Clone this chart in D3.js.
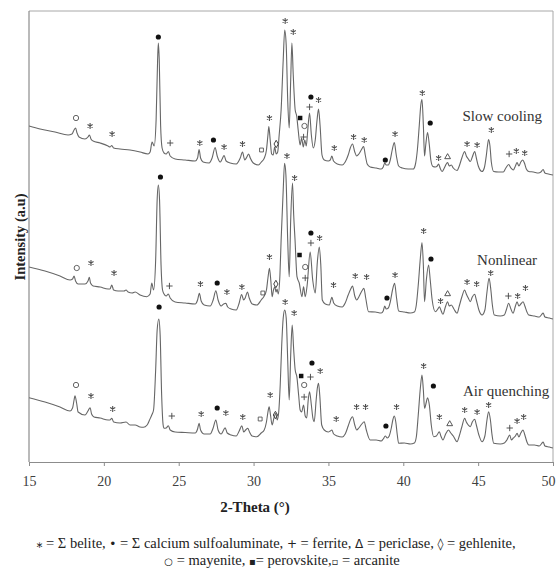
<!DOCTYPE html>
<html>
<head>
<meta charset="utf-8">
<script src="https://cdn.jsdelivr.net/npm/d3@7"></script>
<style>
body { margin: 0; background: #fff; }
text { font-family: 'Liberation Serif', 'DejaVu Serif', serif; }
</style>
</head>
<body>
<div id="xrd_plot"></div>
<script>
var xTicks = [15, 20, 25, 30, 35, 40, 45, 50];
var traceNames = ['Slow cooling', 'Nonlinear', 'Air quenching'];

// [2-theta, intensity (a.u.)]
var slowCooling = [[15.00,336],[15.74,333],[16.74,330],[17.61,327],[17.87,328],[18.01,332],[18.11,334],[18.21,329],[18.34,325],[18.74,323],[18.94,325],[19.04,327],[19.14,323],[19.28,321],[19.75,319],[20.28,316],[20.41,315],[20.53,316.5],[20.65,314],[21.08,313],[21.75,312],[22.42,310],[22.95,308],[23.09,310],[23.22,320],[23.36,316],[23.49,342],[23.59,402],[23.64,419],[23.70,402],[23.79,337],[23.89,314],[24.02,309],[24.16,308],[24.31,310.5],[24.43,306],[24.76,303],[25.43,302],[26.10,301],[26.26,304],[26.36,312.5],[26.46,304],[26.63,300],[27.03,299],[27.23,304],[27.43,314.5],[27.57,306],[27.77,300],[27.90,303],[28.03,306.5],[28.17,301],[28.44,299],[28.84,298],[29.11,304],[29.26,310],[29.41,302],[29.55,305],[29.67,308],[29.78,304],[29.98,299],[30.32,297],[30.52,300],[30.72,304],[30.86,312],[30.96,327],[31.02,335.5],[31.11,322],[31.21,308],[31.31,307],[31.41,315],[31.51,308],[31.61,310],[31.71,327],[31.84,352],[31.98,402],[32.08,432],[32.18,417],[32.28,362],[32.38,334],[32.48,382],[32.56,419],[32.65,387],[32.78,352],[32.88,346],[32.98,332],[33.11,317],[33.21,324],[33.32,315],[33.42,322],[33.52,316],[33.62,332],[33.74,349],[33.86,327],[33.99,314],[34.12,322],[34.24,342],[34.34,353],[34.44,337],[34.57,307],[34.72,302],[34.99,301],[35.12,302],[35.23,306],[35.34,301],[35.59,298],[35.92,297],[36.12,300],[36.32,307],[36.46,314],[36.61,318],[36.76,310],[36.89,306],[37.03,308],[37.19,312],[37.35,315.5],[37.46,307],[37.59,298],[37.79,295],[38.19,294],[38.53,293],[38.66,295],[38.76,299],[38.86,297],[39.00,297],[39.13,302],[39.26,312],[39.40,319.5],[39.53,307],[39.69,296],[39.93,294],[40.33,293],[40.67,293],[40.80,297],[40.94,312],[41.07,337],[41.17,357],[41.25,362.5],[41.34,337],[41.42,306],[41.50,317],[41.62,329.5],[41.74,317],[41.84,302],[41.98,295.5],[42.14,295],[42.27,296],[42.36,298],[42.46,294],[42.59,290.5],[42.74,294],[42.87,298],[42.96,299.5],[43.07,296],[43.21,297],[43.34,294],[43.59,291.5],[43.74,296],[43.91,304],[44.10,310.5],[44.21,306],[44.34,303],[44.48,300.5],[44.61,305],[44.77,310.5],[44.88,304],[45.01,296],[45.26,290.5],[45.41,294],[45.55,307],[45.63,317],[45.70,322.5],[45.79,316],[45.88,300],[46.04,290.5],[46.35,290],[46.68,290],[46.85,294],[47.04,297.5],[47.19,294],[47.35,292],[47.49,296],[47.60,299.5],[47.72,296],[47.85,300],[47.98,302],[48.09,299],[48.22,293],[48.38,290.5],[48.69,290],[49.02,289],[49.19,290],[49.34,292.5],[49.46,289],[49.69,288],[50.00,287]];

var nonlinear = [[15.00,195],[16.07,191],[17.07,186],[17.74,182],[17.91,183],[18.01,186],[18.11,181],[18.28,178],[18.74,178],[18.94,181],[19.03,184.7],[19.11,179],[19.28,176],[19.75,175],[20.28,173],[20.41,173],[20.53,177],[20.65,172],[20.95,171],[21.35,171],[21.48,172],[21.62,170],[21.89,169],[22.09,170],[22.42,167],[22.87,165.3],[23.09,168],[23.20,179],[23.32,172],[23.46,202],[23.56,262],[23.64,277],[23.72,262],[23.82,197],[23.92,172],[24.02,168],[24.16,166],[24.31,168],[24.43,164],[24.76,160],[25.43,159],[26.10,158],[26.26,162],[26.38,168.7],[26.50,161],[26.70,157],[27.10,156],[27.30,162],[27.48,171.3],[27.63,162],[27.83,156],[28.00,158],[28.15,158.7],[28.27,155],[28.50,153],[28.84,152],[29.04,159],[29.20,167.5],[29.34,162],[29.44,164],[29.59,170],[29.71,164],[29.91,158],[30.22,157],[30.51,162],[30.71,166],[30.86,172],[30.96,184],[31.06,193.7],[31.16,180],[31.24,165.3],[31.33,172],[31.42,175.3],[31.50,170],[31.57,173],[31.65,168],[31.76,187],[31.84,222],[31.98,272],[32.07,298.7],[32.16,287],[32.28,222],[32.38,185.3],[32.48,242],[32.60,279],[32.68,247],[32.77,222],[32.90,185.3],[33.05,179],[33.23,165.3],[33.34,175.3],[33.45,165.3],[33.58,177],[33.78,210],[33.95,182],[34.12,169],[34.26,200],[34.39,215],[34.49,197],[34.59,162],[34.79,158],[35.06,157],[35.23,164.7],[35.35,159],[35.59,156],[35.92,155],[36.12,159],[36.32,167],[36.49,173],[36.61,176],[36.76,166],[36.89,162],[37.03,165],[37.23,171],[37.37,173.7],[37.49,164],[37.68,150.3],[38.13,150],[38.53,149],[38.66,151],[38.76,156],[38.86,153],[39.00,154],[39.13,160],[39.28,172],[39.42,178.7],[39.55,164],[39.69,151],[40.07,150],[40.47,149],[40.74,150],[40.87,157],[41.00,177],[41.14,204],[41.25,219.5],[41.34,197],[41.42,160.3],[41.54,182],[41.69,197],[41.80,182],[41.93,162],[42.14,150.3],[42.31,153],[42.41,155.3],[42.51,152],[42.65,147.7],[42.81,155],[42.96,160.3],[43.07,156],[43.21,157],[43.38,153],[43.59,148.7],[43.74,156],[43.91,165],[44.10,172],[44.21,168],[44.34,164],[44.48,160.3],[44.61,165],[44.77,167.7],[44.88,162],[45.05,152],[45.26,147],[45.45,152],[45.59,170],[45.73,183.7],[45.85,172],[45.95,157],[46.08,147],[46.48,146],[46.75,147],[46.88,152],[47.04,158.7],[47.19,153],[47.33,148.7],[47.49,156],[47.60,160.3],[47.72,156],[47.85,158],[48.00,160.3],[48.12,156],[48.26,150],[48.38,147],[48.76,146],[49.09,145],[49.22,147],[49.34,149],[49.46,145],[49.76,144],[50.00,143]];

var airQuenching = [[15.00,64.3],[16.07,60],[17.07,55],[17.74,51],[17.91,54],[18.01,62],[18.07,66.3],[18.18,59],[18.28,50],[18.74,47],[18.94,51],[19.08,54.3],[19.18,48],[19.34,45],[19.75,44],[20.28,42],[20.41,42],[20.53,43.7],[20.65,40],[21.08,39],[21.48,40],[21.75,37],[22.09,37],[22.42,35],[22.64,34.7],[22.89,37],[23.05,42],[23.20,47],[23.32,52],[23.46,92],[23.56,132],[23.67,143],[23.76,127],[23.86,67],[23.96,37],[24.02,33.7],[24.16,34],[24.31,36.3],[24.43,32],[24.76,30],[25.43,29.5],[26.10,29],[26.26,33],[26.36,38.7],[26.46,32],[26.70,28],[27.10,28],[27.30,34],[27.48,42],[27.63,32],[27.83,28],[28.00,32],[28.10,34.3],[28.24,29],[28.50,27],[28.84,26],[29.04,31],[29.22,36.3],[29.34,30],[29.47,32],[29.61,33.7],[29.73,30],[29.90,26],[30.22,25.3],[30.51,29],[30.71,32],[30.86,40],[30.96,50],[31.04,55.3],[31.13,47],[31.24,37],[31.36,44],[31.49,48.7],[31.58,42],[31.68,50],[31.78,77],[31.88,117],[31.98,144],[32.08,152],[32.18,144],[32.28,102],[32.38,62],[32.48,107],[32.58,137],[32.68,112],[32.78,92],[32.89,85.3],[33.01,67],[33.11,52],[33.21,50],[33.34,57],[33.45,46],[33.55,44],[33.65,62],[33.74,70.3],[33.86,57],[33.96,44],[34.05,40.3],[34.18,62],[34.26,74],[34.34,78.7],[34.42,67],[34.55,37],[34.72,32],[34.99,30],[35.12,31],[35.23,32],[35.35,28],[35.59,26],[35.92,25],[36.12,28],[36.32,36],[36.49,43],[36.61,45.3],[36.76,37],[36.89,32],[37.03,34],[37.23,38],[37.39,40.3],[37.53,32],[37.79,22],[38.19,22],[38.53,21],[38.66,23],[38.80,26],[38.93,24],[39.06,26],[39.20,34],[39.30,42],[39.40,46],[39.50,40],[39.60,27],[39.69,18.7],[40.07,19],[40.47,18],[40.74,19],[40.87,25],[41.00,47],[41.14,74],[41.25,87],[41.34,72],[41.42,53.7],[41.54,60],[41.62,64.3],[41.74,57],[41.87,37],[42.03,25.3],[42.21,26],[42.41,30.3],[42.51,26],[42.65,22],[42.83,28],[43.02,32],[43.17,29],[43.34,26],[43.59,20.3],[43.74,26],[43.91,35],[44.10,43.7],[44.21,40],[44.34,37],[44.48,35.3],[44.61,40],[44.77,42.7],[44.88,37],[45.05,27],[45.26,20.3],[45.45,26],[45.59,42],[45.70,50.3],[45.82,42],[45.92,28],[46.04,18.7],[46.48,18],[46.75,19],[46.92,22],[47.11,27],[47.22,22],[47.35,24],[47.49,26],[47.60,28.7],[47.72,25],[47.85,29],[48.00,32],[48.12,27],[48.26,20],[48.38,17],[48.76,17],[49.09,16],[49.22,18],[49.34,20],[49.46,16],[49.76,15],[50.00,14]];

// phase marks: [phase, 2-theta, intensity]
var slowMarks = [['mayenite',18.14,344],['belite',19.08,336],['belite',20.55,328],['csa',23.64,425],['ferrite',24.43,319],['belite',26.41,319],['csa',27.32,322],['belite',28.03,315],['belite',29.26,318],['arcanite',30.53,312],['belite',31.06,344],['gehlenite',31.51,318],['belite',32.11,441],['belite',32.65,430],['perovskite',33.11,344],['mayenite',33.40,336],['ferrite',33.34,325],['csa',33.83,365],['ferrite',33.74,355],['belite',34.34,362],['belite',35.39,314],['belite',36.68,325],['belite',37.39,322],['csa',38.80,302],['belite',39.45,328],['belite',41.27,369],['csa',41.80,339],['belite',42.36,304],['periclase',42.96,305],['belite',44.26,318],['belite',44.93,317],['belite',45.88,332],['ferrite',47.07,308],['belite',47.55,311],['belite',48.11,309]];

var nonlinearMarks = [['mayenite',18.19,194],['belite',19.14,199],['belite',20.68,189],['csa',23.78,285],['ferrite',24.38,176],['belite',26.45,178],['csa',27.57,179],['belite',28.22,170],['belite',29.22,175],['arcanite',30.62,169],['belite',31.06,205],['gehlenite',31.49,178],['belite',32.23,306],['belite',32.74,284],['perovskite',33.07,207],['mayenite',33.45,195],['ferrite',33.45,184],['csa',33.83,229],['ferrite',33.83,219],['belite',34.41,224],['belite',35.34,177],['belite',36.79,186],['belite',37.55,185],['csa',38.91,164],['belite',39.45,187],['belite',41.36,231],['csa',41.85,203],['belite',42.49,161],['periclase',42.96,168],['belite',44.26,180],['belite',44.90,178],['belite',45.84,189],['ferrite',47.02,166],['belite',47.64,166],['belite',48.16,174]];

var airMarks = [['mayenite',18.14,77],['belite',19.14,66],['belite',20.59,53],['csa',23.69,155],['ferrite',24.54,46],['belite',26.50,48],['csa',27.57,54],['belite',28.15,49],['belite',29.28,45],['arcanite',30.44,43],['belite',31.11,67],['gehlenite',31.46,47],['belite',32.11,160],['belite',32.71,149],['perovskite',33.18,86],['mayenite',33.38,77],['ferrite',33.38,65],['csa',33.90,99],['ferrite',33.80,85],['belite',34.45,91],['belite',35.52,43],['belite',36.88,55],['belite',37.48,55],['csa',38.84,36],['belite',39.55,55],['belite',41.36,96],['csa',42.01,76],['belite',42.41,45],['periclase',43.10,38],['belite',44.10,52],['belite',44.93,50],['belite',45.70,57],['ferrite',47.11,34],['belite',47.60,41],['belite',48.04,45]];

// legend: [symbol glyph, rest of the entry]
var legendLine1 = [['\u204E', ' = \u03A3 belite, '], ['\u2022', ' = \u03A3 calcium sulfoaluminate, '], ['+', ' = ferrite, '], ['\u0394', ' = periclase, '], ['\u25CA', ' = gehlenite,']];
var legendLine2 = [['\u25CB', ' = mayenite, '], ['\u25AA', '= perovskite,'], ['\u25AB', ' = arcanite']];

function drawXRD(){
    const width = 557;
    const height = 571;
    const left = 29, right = 553, top = 11, bottom = 462;

    var svg = d3.select('#xrd_plot')
        .append('svg')
        .attr('width', width)
        .attr('height', height);

    var xScale = d3.scaleLinear().domain([15, 50]).range([left, right]);
    var yScale = d3.scaleLinear().domain([0, 451]).range([bottom, top]);

    svg.append('defs').append('clipPath').attr('id', 'plotClip')
        .append('rect')
        .attr('x', left).attr('y', top)
        .attr('width', right - left).attr('height', bottom - top);

    // frame
    svg.append('line').attr('x1', left).attr('x2', right).attr('y1', top).attr('y2', top)
        .attr('stroke', '#a8a8a8').attr('stroke-width', 1);
    svg.append('line').attr('x1', right).attr('x2', right).attr('y1', top).attr('y2', bottom)
        .attr('stroke', '#a8a8a8').attr('stroke-width', 1);
    svg.append('line').attr('x1', left).attr('x2', left).attr('y1', top).attr('y2', bottom)
        .attr('stroke', '#8c8c8c').attr('stroke-width', 1.2);

    var xAxis = svg.append('g')
        .attr('transform', 'translate(0,' + bottom + ')')
        .call(d3.axisBottom(xScale).tickValues(xTicks).tickSize(4).tickSizeOuter(0).tickPadding(10));
    xAxis.select('.domain').attr('stroke', '#8c8c8c').attr('stroke-width', 1.2);
    xAxis.selectAll('.tick line').attr('stroke', '#8c8c8c');
    xAxis.selectAll('.tick text')
        .style('font-family', "'Liberation Serif', serif")
        .style('font-size', '14px')
        .attr('fill', '#404040');
    // keep the last label inside the page
    xAxis.selectAll('.tick text').filter(d => d == 50).attr('text-anchor', 'end').attr('dx', '2');

    var line = d3.line()
        .x(d => xScale(d[0]))
        .y(d => yScale(d[1]))
        .curve(d3.curveMonotoneX);

    var traces = [slowCooling, nonlinear, airQuenching];
    svg.append('g').attr('clip-path', 'url(#plotClip)')
        .selectAll('path')
        .data(traces)
        .join('path')
        .attr('d', line)
        .attr('fill', 'none')
        .attr('stroke', '#666')
        .attr('stroke-width', 1.1)
        .attr('stroke-linejoin', 'round');

    var phaseStyle = {
        belite: {type: d3.symbolAsterisk, size: 24, fill: 'none', stroke: '#505050', sw: 1.1},
        csa: {type: d3.symbolCircle, size: 21, fill: '#111', stroke: 'none', sw: 0},
        ferrite: {type: d3.symbolPlus, size: 15, fill: 'none', stroke: '#444', sw: 0.9},
        periclase: {type: d3.symbolTriangle2, size: 24, fill: 'none', stroke: '#444', sw: 0.9},
        gehlenite: {type: d3.symbolDiamond, size: 16, fill: 'none', stroke: '#444', sw: 1},
        mayenite: {type: d3.symbolCircle, size: 22, fill: 'none', stroke: '#555', sw: 0.9},
        perovskite: {type: d3.symbolSquare, size: 20, fill: '#111', stroke: 'none', sw: 0},
        arcanite: {type: d3.symbolSquare, size: 15, fill: 'none', stroke: '#555', sw: 0.9}
    };

    var allMarks = slowMarks.concat(nonlinearMarks, airMarks);
    svg.append('g')
        .selectAll('path')
        .data(allMarks)
        .join('path')
        .attr('transform', d => 'translate(' + xScale(d[1]) + ',' + yScale(d[2]) + ')')
        .attr('d', d => d3.symbol().type(phaseStyle[d[0]].type).size(phaseStyle[d[0]].size)())
        .attr('fill', d => phaseStyle[d[0]].fill)
        .attr('stroke', d => phaseStyle[d[0]].stroke)
        .attr('stroke-width', d => phaseStyle[d[0]].sw);

    // sample names, anchored in data units
    var nameAnchors = [[43.95, 341], [44.93, 197], [43.99, 66]];
    svg.append('g')
        .selectAll('text')
        .data(traceNames)
        .join('text')
        .attr('x', (d, i) => xScale(nameAnchors[i][0]))
        .attr('y', (d, i) => yScale(nameAnchors[i][1]))
        .style('font-size', '15px')
        .attr('fill', '#333')
        .text(d => d);

    svg.append('text')
        .attr('x', 255)
        .attr('y', 512)
        .attr('text-anchor', 'middle')
        .style('font-size', '15px')
        .style('font-weight', 'bold')
        .attr('fill', '#222')
        .text('2-Theta (\u00B0)');

    svg.append('text')
        .attr('transform', 'translate(25,237) rotate(-90)')
        .attr('text-anchor', 'middle')
        .style('font-size', '14.5px')
        .style('font-weight', 'bold')
        .attr('fill', '#222')
        .text('Intensity (a.u)');

    var legendRows = [legendLine1, legendLine2];
    legendRows.forEach(function(row, i){
        var t = svg.append('text')
            .attr('x', i == 0 ? 276 : 282)
            .attr('y', 548 + i * 17)
            .attr('text-anchor', 'middle')
            .style('font-family', "'Liberation Serif', serif")
            .style('font-size', '14.5px')
            .attr('fill', '#222');
        row.forEach(function(item){
            t.append('tspan')
                .style('font-family', "'DejaVu Sans', sans-serif")
                .style('font-size', i == 0 ? '12px' : '10px')
                .text(item[0]);
            t.append('tspan').text(item[1]);
        });
    });
}

drawXRD();
</script>
</body>
</html>
